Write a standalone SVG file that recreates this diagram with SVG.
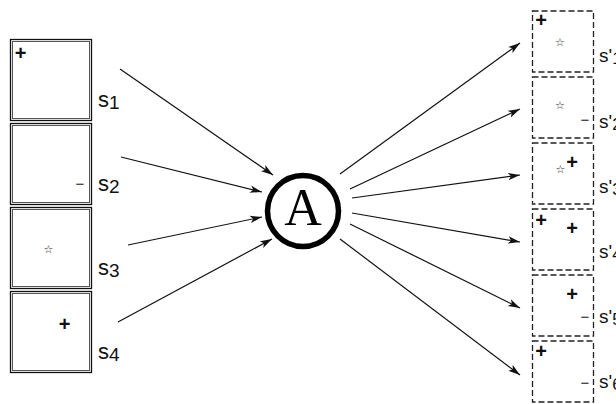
<svg xmlns="http://www.w3.org/2000/svg" width="616" height="404" viewBox="0 0 616 404">
<defs>
<style>
.ob{fill:#fff;stroke:#111;stroke-width:1.3}
.ib{fill:none;stroke:#555;stroke-width:1}
.db{fill:none;stroke:#222;stroke-width:1.3;stroke-dasharray:6,3}
.lbl{font-family:"Liberation Sans",Arial,sans-serif;fill:#111}
.pl{font-family:"Liberation Sans",Arial,sans-serif;font-weight:bold;font-size:20px;fill:#111;text-anchor:middle}
.mn{font-family:"Liberation Sans",Arial,sans-serif;font-size:15px;fill:#222;text-anchor:middle}
.st{font-family:"DejaVu Sans",sans-serif;font-size:11px;fill:#333;text-anchor:middle}
.ed{stroke:#111;stroke-width:1.2;fill:none;marker-end:url(#ah)}
</style>
<marker id="ah" markerWidth="13" markerHeight="9" refX="12" refY="4.5" orient="auto" markerUnits="userSpaceOnUse">
<path d="M0,0.8 L12,4.5 L0,8.2 L3,4.5 z" fill="#111"/>
</marker>
</defs>

<g id="s1">
<rect class="ob" x="10.5" y="39.5" width="81" height="81"/>
<rect class="ib" x="12.5" y="41.5" width="77" height="77"/>
<text class="pl" x="20.5" y="60">+</text>
<text class="lbl" x="98" y="107" font-size="22">s<tspan font-size="19" dy="2">1</tspan></text>
</g>
<g id="s2">
<rect class="ob" x="10.5" y="123.5" width="81" height="81"/>
<rect class="ib" x="12.5" y="125.5" width="77" height="77"/>
<text class="mn" x="80" y="189">−</text>
<text class="lbl" x="98" y="191" font-size="22">s<tspan font-size="19" dy="2">2</tspan></text>
</g>
<g id="s3">
<rect class="ob" x="10.5" y="207.5" width="81" height="81"/>
<rect class="ib" x="12.5" y="209.5" width="77" height="77"/>
<text class="st" x="48.5" y="252.5">☆</text>
<text class="lbl" x="98" y="275" font-size="22">s<tspan font-size="19" dy="2">3</tspan></text>
</g>
<g id="s4">
<rect class="ob" x="10.5" y="291.5" width="81" height="81"/>
<rect class="ib" x="12.5" y="293.5" width="77" height="77"/>
<text class="pl" x="64.5" y="331">+</text>
<text class="lbl" x="98" y="359" font-size="22">s<tspan font-size="19" dy="2">4</tspan></text>
</g>

<g id="A">
<circle cx="303" cy="211" r="35.5" fill="#fff" stroke="#000" stroke-width="5.5"/>
<text x="303" y="225" font-family="Liberation Serif,'Times New Roman',serif" font-size="52" text-anchor="middle" fill="#000">A</text>
</g>

<g id="t1">
<rect class="db" x="532.5" y="11" width="61" height="61"/>
<text class="pl" x="541" y="27">+</text>
<text class="st" x="560" y="45.5">☆</text>
<text class="lbl" x="599" y="62" font-size="19">s'<tspan font-size="17" dy="2">1</tspan></text>
</g>
<g id="t2">
<rect class="db" x="532.5" y="77" width="61" height="61"/>
<text class="st" x="560" y="109">☆</text>
<text class="mn" x="585" y="124.5">−</text>
<text class="lbl" x="599" y="128" font-size="19">s'<tspan font-size="17" dy="2">2</tspan></text>
</g>
<g id="t3">
<rect class="db" x="532.5" y="143" width="61" height="61"/>
<text class="st" x="560.5" y="172.5">☆</text>
<text class="pl" x="572" y="169">+</text>
<text class="lbl" x="599" y="193" font-size="19">s'<tspan font-size="17" dy="2">3</tspan></text>
</g>
<g id="t4">
<rect class="db" x="532.5" y="209" width="61" height="61"/>
<text class="pl" x="541" y="227">+</text>
<text class="pl" x="572" y="235">+</text>
<text class="lbl" x="599" y="258" font-size="19">s'<tspan font-size="17" dy="2">4</tspan></text>
</g>
<g id="t5">
<rect class="db" x="532.5" y="275" width="61" height="61"/>
<text class="pl" x="572" y="301">+</text>
<text class="mn" x="585" y="322">−</text>
<text class="lbl" x="599" y="323" font-size="19">s'<tspan font-size="17" dy="2">5</tspan></text>
</g>
<g id="t6">
<rect class="db" x="532.5" y="341" width="61" height="61"/>
<text class="pl" x="541" y="358">+</text>
<text class="mn" x="585" y="388">−</text>
<text class="lbl" x="599" y="388" font-size="19">s'<tspan font-size="17" dy="2">6</tspan></text>
</g>

<g id="connectors">
<line class="ed" x1="120" y1="69" x2="273" y2="175"/>
<line class="ed" x1="121" y1="157" x2="262" y2="192"/>
<line class="ed" x1="128" y1="245" x2="262" y2="217"/>
<line class="ed" x1="118" y1="322" x2="272" y2="239"/>
<line class="ed" x1="340" y1="174" x2="520" y2="43"/>
<line class="ed" x1="350" y1="189" x2="520" y2="109"/>
<line class="ed" x1="352" y1="198" x2="520" y2="175"/>
<line class="ed" x1="352" y1="213" x2="520" y2="242"/>
<line class="ed" x1="350" y1="224" x2="520" y2="308"/>
<line class="ed" x1="340" y1="239" x2="520" y2="375"/>
</g>
</svg>
